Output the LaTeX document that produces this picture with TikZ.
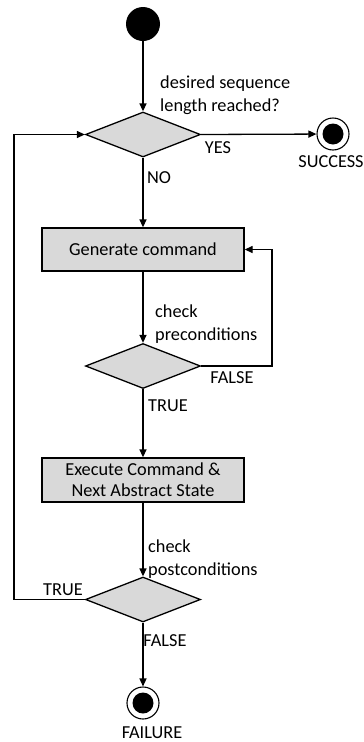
\documentclass[tikz,border=0pt]{standalone}
\usepackage{fontspec}
\setmainfont{Carlito}
\usetikzlibrary{shapes.geometric,arrows.meta}
\definecolor{boxgray}{HTML}{D9D9D9}
\tikzset{
  flow/.style={line width=1.3pt,-{Triangle[length=8pt,width=7pt]}},
  decision/.style={diamond,draw,line width=1.3pt,fill=boxgray,inner sep=0pt,
    minimum width=115pt,minimum height=45pt},
  action/.style={rectangle,draw,line width=1.3pt,fill=boxgray,inner sep=0pt,
    minimum width=202pt,align=center,font=\fontsize{18.3}{22}\selectfont},
  lbl/.style={inner sep=0pt,font=\fontsize{18.3}{23}\selectfont,align=left},
  initial/.style={circle,fill=black,inner sep=0pt,minimum size=34pt},
  final/.style={circle,draw,line width=1.1pt,fill=white,inner sep=0pt,minimum size=32pt,
    path picture={\fill[black] (path picture bounding box.center) circle (10.5pt);}},
}
\begin{document}
\begin{tikzpicture}[x=1pt,y=-1pt]
\useasboundingbox (0,0) rectangle (364,742);

% states and decisions
\node[initial] (start) at (143,24) {};
\node[decision] (d1) at (143,134.5) {};
\node[final] (success) at (333,134) {};
\node[action,minimum height=43pt] (gen) at (143,249.5) {Generate command};
\node[decision] (d2) at (143,366) {};
\node[action,minimum height=44pt] (exec) at (143,480) {Execute Command \&\\[-1pt]Next Abstract State};
\node[decision] (d3) at (143,599.5) {};
\node[final] (fail) at (143,703) {};

% labels
\node[lbl,anchor=west] (q1) at (160,95) {desired sequence\\length reached?};
\node[lbl] (yes) at (218,148) {YES};
\node[lbl] (succ) at (331,162) {SUCCESS};
\node[lbl] (no) at (159,178) {NO};
\node[lbl,anchor=west] (pre) at (155,324) {check\\preconditions};
\node[lbl] (f1) at (232,378) {FALSE};
\node[lbl] (t1) at (168,406) {TRUE};
\node[lbl,anchor=west] (post) at (148,559) {check\\postconditions};
\node[lbl] (t2) at (63,590) {TRUE};
\node[lbl] (f2) at (165,641) {FALSE};
\node[lbl] (failtxt) at (152,732.5) {FAILURE};

% loop corners
\coordinate (rloop) at (272,366);
\coordinate (lloop) at (14,599.5);

% connectors
\draw[flow] (start) -- (d1.north);
\draw[flow] (d1.east) -- (success);
\draw[flow] (d1.south) -- (gen.north);
\draw[flow] (gen.south) -- (d2.north);
\draw[flow] (d2.east) -- (rloop) |- (gen.east);
\draw[flow] (d2.south) -- (exec.north);
\draw[flow] (exec.south) -- (d3.north);
\draw[flow] (d3.west) -- (lloop) |- (d1.west);
\draw[flow] (d3.south) -- (fail);
\end{tikzpicture}
\end{document}
